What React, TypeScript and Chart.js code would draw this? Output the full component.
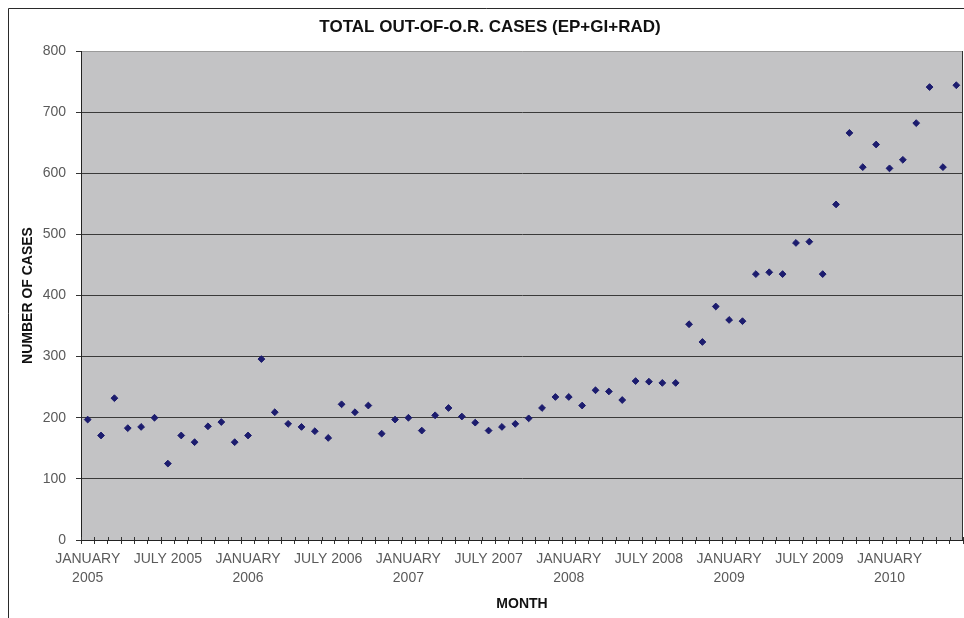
import React, { useEffect, useRef } from 'react';
import { Chart, registerables } from 'chart.js';

Chart.register(...registerables);

const months = [
  'JAN 2005', 'FEB 2005', 'MAR 2005', 'APR 2005', 'MAY 2005', 'JUN 2005',
  'JUL 2005', 'AUG 2005', 'SEP 2005', 'OCT 2005', 'NOV 2005', 'DEC 2005',
  'JAN 2006', 'FEB 2006', 'MAR 2006', 'APR 2006', 'MAY 2006', 'JUN 2006',
  'JUL 2006', 'AUG 2006', 'SEP 2006', 'OCT 2006', 'NOV 2006', 'DEC 2006',
  'JAN 2007', 'FEB 2007', 'MAR 2007', 'APR 2007', 'MAY 2007', 'JUN 2007',
  'JUL 2007', 'AUG 2007', 'SEP 2007', 'OCT 2007', 'NOV 2007', 'DEC 2007',
  'JAN 2008', 'FEB 2008', 'MAR 2008', 'APR 2008', 'MAY 2008', 'JUN 2008',
  'JUL 2008', 'AUG 2008', 'SEP 2008', 'OCT 2008', 'NOV 2008', 'DEC 2008',
  'JAN 2009', 'FEB 2009', 'MAR 2009', 'APR 2009', 'MAY 2009', 'JUN 2009',
  'JUL 2009', 'AUG 2009', 'SEP 2009', 'OCT 2009', 'NOV 2009', 'DEC 2009',
  'JAN 2010', 'FEB 2010', 'MAR 2010', 'APR 2010', 'MAY 2010', 'JUN 2010',
];

const cases = [
  197, 171, 232, 183, 185, 200, 125, 171, 160, 186, 193, 160,
  171, 296, 209, 190, 185, 178, 167, 222, 209, 220, 174, 197,
  200, 179, 204, 216, 202, 192, 179, 185, 190, 199, 216, 234,
  234, 220, 245, 243, 229, 260, 259, 257, 257, 353, 324, 382,
  360, 358, 435, 438, 435, 486, 488, 435, 549, 666, 610, 647,
  608, 622, 682, 741, 610, 744,
];

const tickLabels: string[][] = [
  ['JANUARY', '2005'], ['JULY 2005'],
  ['JANUARY', '2006'], ['JULY 2006'],
  ['JANUARY', '2007'], ['JULY 2007'],
  ['JANUARY', '2008'], ['JULY 2008'],
  ['JANUARY', '2009'], ['JULY 2009'],
  ['JANUARY', '2010'],
];
const monthsPerTickLabel = 6;

const yTicks = { min: 0, max: 800, step: 100 };

const FONT = "'Liberation Sans', Arial, Helvetica, sans-serif";

const framePlugin = {
  id: 'excelFrame',
  beforeDraw(chart: any) {
    const { ctx, chartArea: a } = chart;
    ctx.save();
    ctx.fillStyle = '#ffffff';
    ctx.fillRect(0, 0, chart.width, chart.height);
    ctx.fillStyle = '#c3c3c5';
    ctx.fillRect(a.left, a.top, a.right - a.left, a.bottom - a.top);
    ctx.strokeStyle = '#2a2a2a';
    ctx.lineWidth = 1;
    ctx.beginPath();
    ctx.moveTo(8.5, chart.height);
    ctx.lineTo(8.5, 8.5);
    ctx.lineTo(chart.width, 8.5);
    ctx.stroke();
    ctx.restore();
  },
  beforeDatasetsDraw(chart: any) {
    const { ctx, chartArea: a } = chart;
    const x = chart.scales.x;
    ctx.save();
    ctx.strokeStyle = '#333333';
    ctx.lineWidth = 1;
    ctx.beginPath();
    ctx.moveTo(a.right - 0.5, a.top);
    ctx.lineTo(a.right - 0.5, a.bottom);
    for (let i = 0; i <= months.length; i++) {
      const px = Math.round(x.getPixelForValue(i - 0.5)) + 0.5;
      ctx.moveTo(px, a.bottom - 3);
      ctx.lineTo(px, a.bottom);
    }
    ctx.stroke();
    ctx.restore();
  },
};

export default function App() {
  const canvasRef = useRef<HTMLCanvasElement | null>(null);

  useEffect(() => {
    const canvas = canvasRef.current;
    if (!canvas) return;
    const chart = new Chart(canvas, {
      type: 'line',
      data: {
        labels: months,
        datasets: [
          {
            label: 'TOTAL OUT-OF-O.R. CASES',
            data: cases,
            showLine: false,
            pointStyle: 'rectRot',
            pointRadius: 3.4,
            pointBorderWidth: 1,
            pointBackgroundColor: '#1c1c6e',
            pointBorderColor: '#1c1c6e',
            borderColor: '#1c1c6e',
            backgroundColor: '#1c1c6e',
            clip: false,
          },
        ],
      },
      options: {
        responsive: false,
        animation: false,
        devicePixelRatio: 1,
        events: [],
        layout: { autoPadding: false, padding: { left: 17, right: 1, top: 0, bottom: 0 } },
        plugins: {
          legend: { display: false },
          tooltip: { enabled: false },
          title: {
            display: true,
            text: 'TOTAL OUT-OF-O.R. CASES (EP+GI+RAD)',
            color: '#111111',
            font: { family: FONT, size: 17, weight: 'bold', lineHeight: 1.2 },
            padding: { top: 16.8, bottom: 13.8 },
          },
        },
        scales: {
          x: {
            type: 'category',
            offset: true,
            grid: {
              display: true,
              offset: true,
              drawOnChartArea: false,
              drawTicks: true,
              tickLength: 4,
              color: '#333333',
            },
            border: { display: true, color: '#222222' },
            ticks: {
              autoSkip: false,
              maxRotation: 0,
              minRotation: 0,
              padding: 6,
              color: '#5a5a5a',
              font: { family: FONT, size: 14, lineHeight: 1.35 },
              callback: (_v: any, idx: number) =>
                idx % monthsPerTickLabel === 0 ? tickLabels[idx / monthsPerTickLabel] : '',
            },
            title: {
              display: true,
              text: 'MONTH',
              color: '#111111',
              font: { family: FONT, size: 14, weight: 'bold', lineHeight: 1.2 },
              padding: { top: 0, bottom: 5.6 },
            },
            afterFit: (s: any) => {
              s.height = 78;
              s.paddingLeft = 0;
              s.paddingRight = 0;
            },
          },
          y: {
            min: yTicks.min,
            max: yTicks.max,
            grid: {
              color: (c: any) => (c.tick && c.tick.value === yTicks.max ? '#9a9a9a' : '#3a3a3a'),
              tickColor: '#333333',
              tickLength: 5,
              drawTicks: true,
            },
            border: { display: true, color: '#222222' },
            ticks: {
              stepSize: yTicks.step,
              padding: 10,
              color: '#5a5a5a',
              font: { family: FONT, size: 14 },
            },
            title: {
              display: true,
              text: 'NUMBER OF CASES',
              color: '#111111',
              font: { family: FONT, size: 14, weight: 'bold', lineHeight: 1.2 },
              padding: { top: 2.6, bottom: 0 },
            },
            afterFit: (s: any) => {
              s.width = 64;
            },
          },
        },
      },
      plugins: [framePlugin],
    } as any);
    return () => chart.destroy();
  }, []);

  return (
    <div style={{ position: 'absolute', left: 0, top: 0, width: 964, height: 618, background: '#fff' }}>
      <canvas ref={canvasRef} width={964} height={618} style={{ display: 'block', width: 964, height: 618 }} />
    </div>
  );
}
